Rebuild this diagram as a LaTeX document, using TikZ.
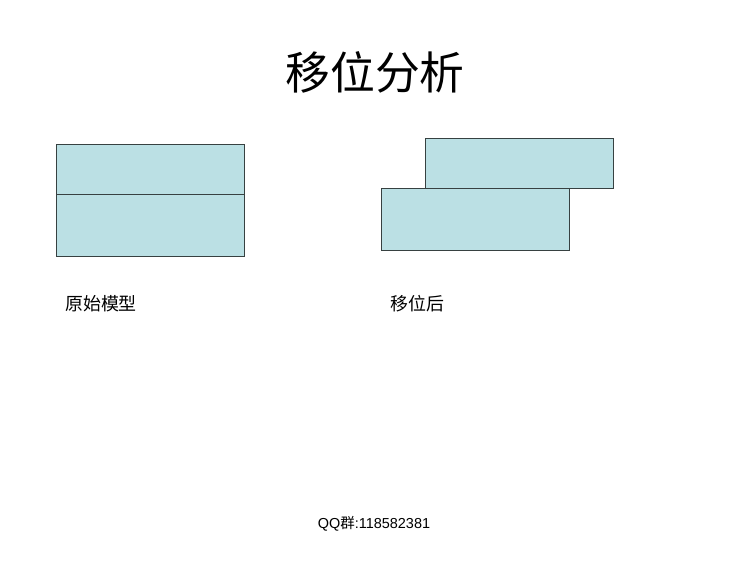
\documentclass[tikz,border=0pt]{standalone}
\usepackage{fontspec}
\setmainfont{Liberation Sans}
\newfontfamily\cjk{Noto Sans CJK SC}
\definecolor{soilblue}{RGB}{187,224,228}
\definecolor{edgegray}{RGB}{55,65,65}
\begin{document}
\begin{tikzpicture}[x=1bp,y=-1bp,
  layer/.style={draw=edgegray,fill=soilblue,line width=0.9bp,minimum width=188bp,inner sep=0pt,anchor=north west},
  caption/.style={font=\cjk\fontsize{18}{18}\selectfont,anchor=west,inner sep=0pt}]
\useasboundingbox (0,0) rectangle (750,563);
\node[font=\cjk\fontsize{45}{45}\selectfont] (title) at (375,72) {移位分析};
% original model
\node[layer,minimum height=50bp] (topA) at (56,144) {};
\node[layer,minimum height=62bp] (botA) at (56,194) {};
\node[caption] (capA) at (65,304) {原始模型};
% after shift
\node[layer,minimum height=50bp] (topB) at (425,138) {};
\node[layer,minimum height=62bp] (botB) at (381,188) {};
\node[caption] (capB) at (390,304) {移位后};
\node[font=\fontsize{14.5}{14.5}\selectfont] (qq) at (374,524) {QQ{\cjk 群}:118582381};
\end{tikzpicture}
\end{document}
